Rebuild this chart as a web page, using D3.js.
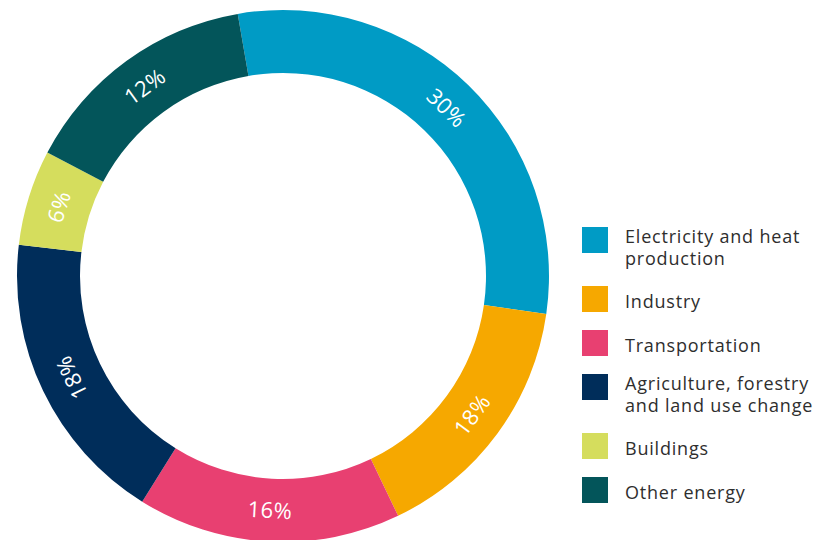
<!DOCTYPE html>
<html>
<head>
<meta charset="utf-8">
<script src="https://cdn.jsdelivr.net/npm/d3@7"></script>
<style>
  body { margin: 0; background: #fff; }
  svg { display: block; }
</style>
</head>
<body>
<svg width="821" height="540"></svg>
<script>
// data
const sectors = ['Electricity and heat production', 'Industry', 'Transportation',
  'Agriculture, forestry and land use change', 'Buildings', 'Other energy'];
// printed percentages
const shares = [30, 18, 16, 18, 6, 12];
// arc sizes as actually drawn in the original (it is not drawn to scale)
const drawnShares = [30, 15.6, 16, 18, 5.8, 14.6];
const colors = ['#009bc5', '#f6a800', '#e84071', '#002d5a', '#d5dd5d', '#03555a'];
// legend lines (wrapped as in the original)
const legendLines = [
  ['Electricity and heat', 'production'],
  ['Industry'],
  ['Transportation'],
  ['Agriculture, forestry', 'and land use change'],
  ['Buildings'],
  ['Other energy']
];

const svg = d3.select('svg');
const cx = 283, cy = 276;
const rIn = 203, rOut = 266;
const start = -9.8 * Math.PI / 180;

const pie = d3.pie()
  .sort(null)
  .value(d => d)
  .startAngle(start)
  .endAngle(start + 2 * Math.PI);

const arc = d3.arc()
  .innerRadius(rIn)
  .outerRadius(rOut);

const g = svg.append('g')
  .attr('transform', `translate(${cx},${cy})`);

const slices = pie(drawnShares);

g.selectAll('path')
  .data(slices)
  .enter()
  .append('path')
  .attr('d', arc)
  .attr('fill', (d, i) => colors[i]);

// percentage labels, written along the ring
g.selectAll('text')
  .data(slices)
  .enter()
  .append('text')
  .attr('transform', d => {
    const c = arc.centroid(d);
    let a = (d.startAngle + d.endAngle) / 2 * 180 / Math.PI;
    if (a > 90 && a < 230) a -= 180;
    return `translate(${c[0]},${c[1]}) rotate(${a})`;
  })
  .attr('text-anchor', 'middle')
  .attr('dy', '0.36em')
  .attr('fill', '#fff')
  .style('font-family', '"Open Sans", sans-serif')
  .style('font-size', '22px')
  .style('letter-spacing', '0.5px')
  .text((d, i) => shares[i] + '%');

// legend
const lg = svg.append('g');
let y = 227;
legendLines.forEach((lines, i) => {
  const item = lg.append('g').attr('transform', `translate(582,${y})`);
  item.append('rect')
    .attr('width', 26)
    .attr('height', 26)
    .attr('fill', colors[i]);
  const t = item.append('text')
    .attr('x', 43)
    .attr('y', lines.length > 1 ? 16 : 22)
    .attr('fill', '#2e2e2e')
    .style('font-family', '"Open Sans", sans-serif')
    .style('font-size', '18px')
    .style('letter-spacing', '0.8px');
  lines.forEach((l, j) => {
    t.append('tspan')
      .attr('x', 43)
      .attr('dy', j === 0 ? 0 : 22)
      .text(l);
  });
  y += 44 + 15 * (lines.length - 1);
});
</script>
</body>
</html>
